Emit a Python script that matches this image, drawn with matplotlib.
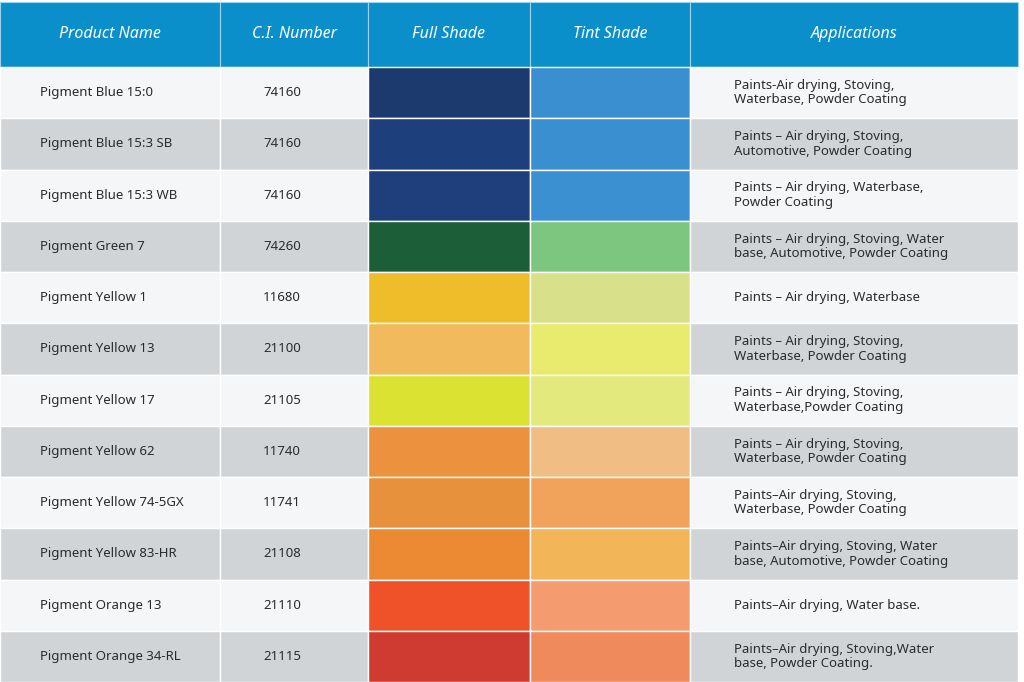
import matplotlib.pyplot as plt
from matplotlib.patches import Rectangle

headers = ['Product Name', 'C.I. Number', 'Full Shade', 'Tint Shade', 'Applications']
products = ['Pigment Blue 15:0', 'Pigment Blue 15:3 SB', 'Pigment Blue 15:3 WB', 'Pigment Green 7',
            'Pigment Yellow 1', 'Pigment Yellow 13', 'Pigment Yellow 17', 'Pigment Yellow 62',
            'Pigment Yellow 74-5GX', 'Pigment Yellow 83-HR', 'Pigment Orange 13', 'Pigment Orange 34-RL']
ci_numbers = ['74160', '74160', '74160', '74260', '11680', '21100', '21105', '11740',
              '11741', '21108', '21110', '21115']
full_shade = ['#1d3a6e', '#1d3f7c', '#1e3f7c', '#1b5e38', '#f0bd2a', '#f1bb5d', '#dbe232', '#ec913e',
              '#e8913c', '#ec8a34', '#ef5128', '#cf3b31']
tint_shade = ['#3a8fd0', '#3a8fd0', '#3b90d1', '#7dc67f', '#d9e08a', '#e9eb6e', '#e3e97c', '#f0bd84',
              '#f1a35c', '#f2b558', '#f49b70', '#ef8a5d']
applications = ['Paints-Air drying, Stoving,\nWaterbase, Powder Coating',
                'Paints – Air drying, Stoving,\nAutomotive, Powder Coating',
                'Paints – Air drying, Waterbase,\nPowder Coating',
                'Paints – Air drying, Stoving, Water\nbase, Automotive, Powder Coating',
                'Paints – Air drying, Waterbase',
                'Paints – Air drying, Stoving,\nWaterbase, Powder Coating',
                'Paints – Air drying, Stoving,\nWaterbase,Powder Coating',
                'Paints – Air drying, Stoving,\nWaterbase, Powder Coating',
                'Paints–Air drying, Stoving,\nWaterbase, Powder Coating',
                'Paints–Air drying, Stoving, Water\nbase, Automotive, Powder Coating',
                'Paints–Air drying, Water base.',
                'Paints–Air drying, Stoving,Water\nbase, Powder Coating.']

col_edges = [0, 220, 368, 530, 690, 1018]
header_top, header_bottom, table_bottom = 2, 67, 682
row_h = (table_bottom - header_bottom) / len(products)

plt.rcParams['font.family'] = ['Noto Sans', 'DejaVu Sans']
fig = plt.figure(figsize=(10.24, 6.82), dpi=100)
ax = fig.add_axes([0, 0, 1, 1])
ax.set_xlim(0, 1024)
ax.set_ylim(682, 0)
ax.axis('off')

# header
for i, h in enumerate(headers):
    x0, x1 = col_edges[i], col_edges[i + 1]
    ax.add_patch(Rectangle((x0, header_top), x1 - x0, header_bottom - header_top,
                           facecolor='#0b8fcb', edgecolor='#9fd3ec', lw=0.8))
    ax.text((x0 + x1) / 2, (header_top + header_bottom) / 2, h, color='white', fontsize=11.5,
            fontweight='bold', fontstyle='italic', ha='center', va='center')

for r, name in enumerate(products):
    y0 = header_bottom + r * row_h
    bg = '#f5f6f8' if r % 2 == 0 else '#d1d4d7'
    fills = [bg, bg, full_shade[r], tint_shade[r], bg]
    for c in range(5):
        x0, x1 = col_edges[c], col_edges[c + 1]
        ax.add_patch(Rectangle((x0, y0), x1 - x0, row_h, facecolor=fills[c],
                               edgecolor='white', lw=1.0))
    yc = y0 + row_h / 2
    ax.text(40, yc, name, fontsize=9.5, color='#2b2b2b', ha='left', va='center')
    ax.text(282, yc, ci_numbers[r], fontsize=9.5, color='#2b2b2b', ha='center', va='center')
    ax.text(734, yc, applications[r], fontsize=9.5, color='#2b2b2b', ha='left', va='center',
            linespacing=1.15)

fig.savefig('out.png', dpi=100)
